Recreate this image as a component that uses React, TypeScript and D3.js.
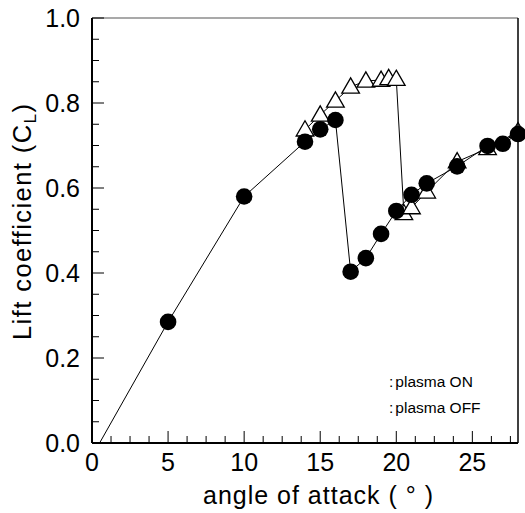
import React from "react";
import * as d3 from "d3";

// plasma OFF (filled circles)
const offAngle = [5, 10, 14, 15, 16, 17, 18, 19, 20, 21, 22, 24, 26, 27, 28];
const offCL = [0.285, 0.58, 0.709, 0.738, 0.76, 0.403, 0.435, 0.492, 0.546, 0.584, 0.611, 0.651, 0.699, 0.704, 0.727];
// zero-lift angle where the OFF curve starts (line only)
const zeroLiftAngle = 0.5;

// plasma ON (open triangles)
const onAngle = [14, 15, 16, 17, 18, 19, 19.5, 20, 20.5, 21, 22, 24, 26, 28];
const onCL = [0.737, 0.772, 0.805, 0.838, 0.852, 0.854, 0.858, 0.856, 0.54, 0.554, 0.591, 0.662, 0.693, 0.733];

const xMajorTicks = [0, 5, 10, 15, 20, 25];
const yMajorTicks = [0, 0.2, 0.4, 0.6, 0.8, 1.0];
const legendLabels = ["plasma ON", "plasma OFF"];

const W = 525, H = 513;
const L = 92, R = 518, T = 18, B = 443;
const FONT = "'Liberation Sans', Arial, Helvetica, sans-serif";

export default function App() {
  const x = d3.scaleLinear().domain([0, 28]).range([L, R]);
  const y = d3.scaleLinear().domain([0, 1]).range([B, T]);

  const xMinor = d3.range(0, 28.001, 1.25).filter((v) => !xMajorTicks.some((m) => Math.abs(m - v) < 1e-6));
  const yMinor = d3.range(0, 1.0001, 0.05).filter((v) => !yMajorTicks.some((m) => Math.abs(m - v) < 1e-6));

  const line = d3.line<[number, number]>().x((d) => x(d[0])).y((d) => y(d[1]));
  const offPts: [number, number][] = [[zeroLiftAngle, 0], ...offAngle.map((a, i) => [a, offCL[i]] as [number, number])];
  const onPts: [number, number][] = onAngle.map((a, i) => [a, onCL[i]] as [number, number]);

  const tri = (cx: number, cy: number) =>
    `M${cx},${cy - 9}L${cx + 8.8},${cy + 6.2}L${cx - 8.8},${cy + 6.2}Z`;

  return (
    <svg width={W} height={H} style={{ position: "absolute", left: 0, top: 0, background: "#fff" }} fontFamily={FONT}>
      <rect x={0} y={0} width={W} height={H} fill="#fff" />
      {/* lines */}
      <path d={line(offPts) || ""} fill="none" stroke="#000" strokeWidth={1} />
      <path d={line(onPts) || ""} fill="none" stroke="#000" strokeWidth={1} />
      {/* triangles */}
      {onPts.map((p, i) => (
        <path key={"t" + i} d={tri(x(p[0]), y(p[1]))} fill="#fff" stroke="#000" strokeWidth={1.3} />
      ))}
      {/* circles */}
      {offPts.slice(1).map((p, i) => (
        <circle key={"c" + i} cx={x(p[0])} cy={y(p[1])} r={8.3} fill="#000" />
      ))}
      {/* frame */}
      <line x1={L} y1={T} x2={R} y2={T} stroke="#555" strokeWidth={1.2} />
      <line x1={R} y1={T} x2={R} y2={B} stroke="#000" strokeWidth={1.5} />
      <line x1={L} y1={T} x2={L} y2={B} stroke="#000" strokeWidth={2} />
      <line x1={L} y1={B} x2={R} y2={B} stroke="#000" strokeWidth={2} />
      {/* x ticks */}
      {xMajorTicks.map((v) => (
        <g key={"xm" + v}>
          <line x1={x(v)} x2={x(v)} y1={B} y2={B - 12} stroke="#000" strokeWidth={1} />
          <text x={x(v)} y={471} textAnchor="middle" fontSize={25}>{v}</text>
        </g>
      ))}
      {xMinor.map((v) => (
        <line key={"xn" + v} x1={x(v)} x2={x(v)} y1={B} y2={B - 7} stroke="#000" strokeWidth={1} />
      ))}
      {/* y ticks */}
      {yMajorTicks.map((v) => (
        <g key={"ym" + v}>
          <line x1={L} x2={L + 12} y1={y(v)} y2={y(v)} stroke="#000" strokeWidth={1} />
          <text x={80} y={y(v) + 9} textAnchor="end" fontSize={25}>{v.toFixed(1)}</text>
        </g>
      ))}
      {yMinor.map((v) => (
        <line key={"yn" + v} x1={L} x2={L + 7} y1={y(v)} y2={y(v)} stroke="#000" strokeWidth={1} />
      ))}
      {/* axis titles */}
      <text x={318} y={504} textAnchor="middle" fontSize={25} textLength={230} lengthAdjust="spacing">
        angle of attack ( ° )
      </text>
      <text transform={`translate(31,222) rotate(-90)`} textAnchor="middle" fontSize={25.5} textLength={236} lengthAdjust="spacing">
        Lift coefficient (C<tspan fontSize={17} dy={5}>L</tspan><tspan dy={-5}>)</tspan>
      </text>
      {/* legend */}
      {legendLabels.map((lab, i) => (
        <text key={lab} x={389} y={387 + i * 26} fontSize={15.5}>
          :<tspan dx={2}>{lab}</tspan>
        </text>
      ))}
    </svg>
  );
}
